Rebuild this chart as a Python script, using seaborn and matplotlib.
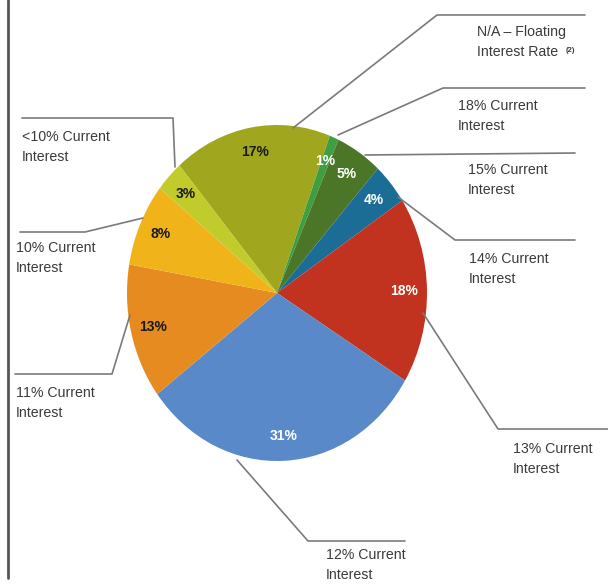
"""
Pie chart of loans by current interest rate, with callout labels.
"""

import matplotlib.pyplot as plt
import numpy as np
import seaborn as sns

# data, clockwise from the top
categories = [
    "N/A \u2013 Floating\nInterest Rate",
    "18% Current\nInterest",
    "15% Current\nInterest",
    "14% Current\nInterest",
    "13% Current\nInterest",
    "12% Current\nInterest",
    "11% Current\nInterest",
    "10% Current\nInterest",
    "<10% Current\nInterest",
]
shares = [17, 1, 5, 4, 18, 31, 13, 8, 3]

slice_colors = ["#a0a61d", "#3f9e42", "#4b7628", "#1b6d95", "#c1321f",
                "#5a89c9", "#e68b20", "#f1b31a", "#c2cb2c"]
pct_colors = ["#1a1a1a", "white", "white", "white", "white",
              "white", "#1a1a1a", "#1a1a1a", "#1a1a1a"]

# callout layout in pixels: leader polyline, and left / middle of the label
leaders = [
    [(293, 128), (437, 15), (585, 15)],
    [(338, 135), (443, 88), (585, 88)],
    [(365, 155), (575, 153)],
    [(398, 197), (455, 240), (575, 240)],
    [(423, 313), (498, 429), (608, 429)],
    [(237, 460), (308, 541), (405, 541)],
    [(130, 315), (112, 374), (15, 374)],
    [(143, 218), (85, 232), (20, 232)],
    [(175, 167), (173, 118), (22, 118)],
]
label_pos = [(477, 42), (458, 116), (468, 180), (469, 269), (513, 459),
             (326, 565), (16, 403), (16, 258), (22, 147)]

# pie centre / radii in pixels (the picture is stretched vertically)
CX, CY, RX, RY = 277, 293, 150, 168


def px(x, y):
    return (x - CX) / RX, (CY - y) / RY


sns.set_theme(style="white")
plt.rcParams['font.family'] = ['Liberation Sans', 'DejaVu Sans']

fig = plt.figure(figsize=(6.08, 5.85), dpi=100)
ax = fig.add_axes([0, 0, 1, 1])

wedges, texts, autotexts = ax.pie(
    shares,
    colors=slice_colors,
    startangle=130.6,
    counterclock=False,
    autopct="%1.0f%%",
    pctdistance=0.85,
    wedgeprops=dict(linewidth=0),
    textprops=dict(fontsize=10, fontweight="bold"),
)
for t, c in zip(autotexts, pct_colors):
    t.set_color(c)

ax.set_aspect("auto")
ax.set_xlim(px(0, 0)[0], px(608, 0)[0])
ax.set_ylim(px(0, 585)[1], px(0, 0)[1])
ax.axis("off")

for pts, (lx, ly), lab in zip(leaders, label_pos, categories):
    xy = np.array([px(x, y) for x, y in pts])
    ax.plot(xy[:, 0], xy[:, 1], color="#7a7a7a", lw=1.2, clip_on=False)
    ax.text(*px(lx, ly), lab, ha="left", va="center", fontsize=10.2,
            color="#3a3a3a", linespacing=1.55)

# footnote marker on the floating-rate label
ax.text(*px(566, 50), "(2)", ha="left", va="center", fontsize=5.5,
        fontweight="bold", color="#3a3a3a")

# frame line on the left
fx = np.array([px(8, 0), px(8, 578)])
ax.plot(fx[:, 0], fx[:, 1], color="#555555", lw=2)

fig.savefig("out.png", dpi=100)
